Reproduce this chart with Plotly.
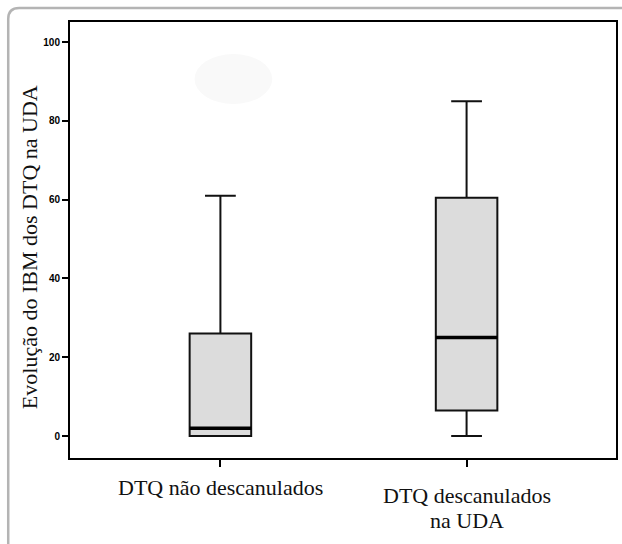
import plotly.graph_objects as go

categories = ["DTQ não descanulados", "DTQ descanulados<br>na UDA"]
lower_fence = [0, 0]
q1 = [0, 6.5]
median = [2, 25]
q3 = [26, 60.5]
upper_fence = [61, 85]
y_ticks = [0, 20, 40, 60, 80, 100]

W, H = 622, 544
ML, MR, MT, MB = 70, 4, 22, 86
PW, PH = W - ML - MR, H - MT - MB


def px_x(p):
    return (p - ML) / PW


def px_y(p):
    return (H - MB - p) / PH


positions = list(range(len(categories)))
box_w = 0.25

fig = go.Figure()
fig.add_trace(go.Box(
    x=positions,
    q1=q1, median=median, q3=q3,
    lowerfence=lower_fence, upperfence=upper_fence,
    width=box_w,
    whiskerwidth=0.5,
    fillcolor="#dcdcdc",
    line=dict(color="#111111", width=2),
    boxpoints=False,
    showlegend=False,
    hoverinfo="skip",
))

shapes = []
# thick median lines
for i, m in zip(positions, median):
    shapes.append(dict(type="line", xref="x", yref="y",
                       x0=i - box_w / 2, x1=i + box_w / 2, y0=m, y1=m,
                       line=dict(color="black", width=3.5)))

# faint ellipse artifact
shapes.append(dict(type="circle", xref="paper", yref="paper",
                   x0=px_x(195), x1=px_x(273), y0=px_y(104), y1=px_y(54),
                   fillcolor="#f9f9f9", line=dict(width=0), layer="below"))

# outer rounded frame
x0, y0, x1, y1, r = 8, 8, 660, 560, 11
path = (f"M {px_x(x1)},{px_y(y0)} L {px_x(x0 + r)},{px_y(y0)} "
        f"Q {px_x(x0)},{px_y(y0)} {px_x(x0)},{px_y(y0 + r)} "
        f"L {px_x(x0)},{px_y(y1 - r)} "
        f"Q {px_x(x0)},{px_y(y1)} {px_x(x0 + r)},{px_y(y1)} "
        f"L {px_x(x1)},{px_y(y1)}")
shapes.append(dict(type="path", xref="paper", yref="paper", path=path,
                   line=dict(color="#b4b4b4", width=2.5)))

annotations = []
first_line_y = [488, 495]
line_gap = 25
for i, (cat, ly) in enumerate(zip(categories, first_line_y)):
    for k, part in enumerate(cat.split("<br>")):
        annotations.append(dict(x=i, y=px_y(ly + k * line_gap), xref="x", yref="paper",
                                text=part, showarrow=False,
                                font=dict(family="Liberation Serif", size=22, color="#111111"),
                                xanchor="center", yanchor="middle", align="center"))
annotations.append(dict(x=px_x(30), y=px_y(247), xref="paper", yref="paper",
                        text="Evolução do IBM dos DTQ na UDA", textangle=-90,
                        showarrow=False,
                        font=dict(family="Liberation Serif", size=22, color="#111111"),
                        xanchor="center", yanchor="middle"))

fig.update_layout(
    width=W, height=H,
    margin=dict(l=ML, r=MR, t=MT, b=MB),
    paper_bgcolor="white", plot_bgcolor="white",
    shapes=shapes, annotations=annotations,
    xaxis=dict(range=[-0.611, 1.607], tickvals=positions, ticktext=["", ""],
               ticks="outside", ticklen=7, tickwidth=2, tickcolor="black",
               showgrid=False, zeroline=False,
               showline=True, linecolor="black", linewidth=2, mirror=True),
    yaxis=dict(range=[-5.58, 105.1], tickvals=y_ticks,
               ticks="outside", ticklen=6, tickwidth=2, tickcolor="black",
               tickfont=dict(family="Liberation Sans Narrow, Liberation Sans", size=10,
                             color="black", weight="bold"),
               showgrid=False, zeroline=False,
               showline=True, linecolor="black", linewidth=2, mirror=True),
)

fig.write_html("out.html", config={"displayModeBar": False},
               post_script="document.body.style.margin='0px';")
